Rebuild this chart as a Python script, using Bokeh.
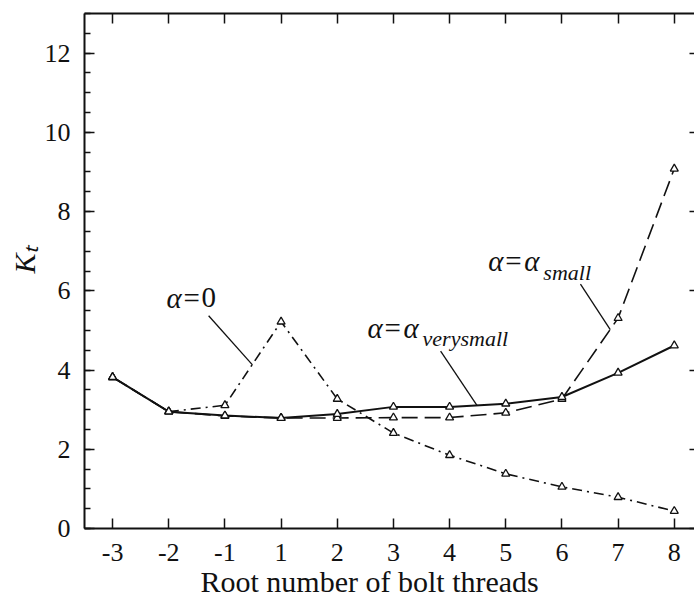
import math
from bokeh.plotting import figure
from bokeh.models import (Range1d, LinearAxis, FixedTicker, SingleIntervalTicker,
                          Label, Title, ColumnDataSource)
from bokeh.embed import file_html
from bokeh.resources import INLINE

# ---------------- data ----------------
categories = ["-3", "-2", "-1", "1", "2", "3", "4", "5", "6", "7", "8"]
kt_verysmall = [3.82, 2.95, 2.85, 2.79, 2.89, 3.07, 3.07, 3.15, 3.32, 3.93, 4.62]
kt_small     = [3.82, 2.95, 2.84, 2.79, 2.79, 2.80, 2.80, 2.92, 3.27, 5.31, 9.08]
kt_zero      = [3.82, 2.95, 3.11, 5.22, 3.27, 2.41, 1.85, 1.38, 1.05, 0.79, 0.44]

x_title = "Root number of  bolt threads"
y_title = "Kₜ"

idx = list(range(len(categories)))
FONT = "Liberation Serif"
INK = "#111111"

p = figure(width=694, height=606,
           x_range=Range1d(-0.5, 10.36), y_range=Range1d(0, 13),
           output_backend="svg", toolbar_location=None,
           x_axis_location=None, y_axis_location=None,
           min_border_left=84, min_border_right=0,
           min_border_top=13, min_border_bottom=78)
p.outline_line_color = None
p.background_fill_color = "white"
p.border_fill_color = "white"
for g in p.grid:
    g.visible = False

# ---------------- axes ----------------
xa = LinearAxis(ticker=FixedTicker(ticks=idx),
                major_label_overrides={i: c for i, c in enumerate(categories)})
xa.major_tick_in = 10
xa.major_tick_out = 0
xa.minor_tick_in = 0
xa.minor_tick_out = 0
xa.axis_line_width = 2
xa.axis_line_color = INK
xa.major_tick_line_width = 1.5
xa.major_tick_line_color = INK
xa.major_label_text_font = FONT
xa.major_label_text_font_size = "26px"
xa.major_label_text_color = INK
xa.major_label_standoff = 15
p.add_layout(xa, "below")

ta = LinearAxis(ticker=FixedTicker(ticks=idx))
ta.major_label_text_font_size = "0px"
ta.major_label_standoff = 0
ta.major_tick_in = 10
ta.major_tick_out = 0
ta.minor_tick_in = 0
ta.minor_tick_out = 0
ta.axis_line_width = 2
ta.axis_line_color = INK
ta.major_tick_line_width = 1.5
ta.major_tick_line_color = INK
p.add_layout(ta, "above")

ya = LinearAxis(ticker=SingleIntervalTicker(interval=2, num_minor_ticks=4))
ya.major_tick_in = 10
ya.major_tick_out = 0
ya.minor_tick_in = 6
ya.minor_tick_out = 0
ya.axis_line_width = 2
ya.axis_line_color = INK
ya.major_tick_line_width = 1.5
ya.minor_tick_line_width = 1.5
ya.major_tick_line_color = INK
ya.minor_tick_line_color = INK
ya.major_label_text_font = FONT
ya.major_label_text_font_size = "26px"
ya.major_label_text_color = INK
ya.major_label_standoff = 14
p.add_layout(ya, "left")

ra = LinearAxis(ticker=SingleIntervalTicker(interval=2, num_minor_ticks=4))
ra.major_label_text_font_size = "0px"
ra.major_label_standoff = 0
ra.axis_line_color = None
ra.major_tick_in = 5
ra.major_tick_out = 0
ra.minor_tick_in = 0
ra.minor_tick_out = 0
ra.major_tick_line_width = 1.5
ra.major_tick_line_color = INK
p.add_layout(ra, "right")

# axis titles as Title panels (placed outside the axes)
xt = Title(text=x_title, align="left", offset=116, standoff=2,
           text_font=FONT, text_font_size="30px", text_font_style="normal",
           text_color=INK, vertical_align="top")
p.add_layout(xt, "below")

yt = Title(text=y_title, align="left", offset=255, standoff=2,
           text_font=FONT, text_font_size="30px", text_font_style="italic",
           text_color=INK, vertical_align="bottom")
p.add_layout(yt, "left")

# ---------------- series ----------------
src = ColumnDataSource(dict(x=idx, vs=kt_verysmall, sm=kt_small, z=kt_zero))

p.line("x", "z", source=src, line_color=INK, line_width=1.6, line_dash="10 5 2 5")
p.line("x", "sm", source=src, line_color=INK, line_width=1.6, line_dash="16 7")
p.line("x", "vs", source=src, line_color=INK, line_width=2.0)
for col in ("z", "sm", "vs"):
    p.scatter("x", col, source=src, marker="triangle", size=8,
              fill_color="white", line_color=INK, line_width=1.3)

# ---------------- annotations ----------------
def alpha_label(x, y, sub=None, tail=None, size=29, sub_size=22, lift=8):
    """alpha = ... label anchored at data (x, y) baseline-left"""
    parts = []
    parts.append(Label(x=x, y=y, y_offset=lift, text="α", text_font=FONT,
                       text_font_size=f"{size}px", text_font_style="italic",
                       text_color=INK, text_baseline="alphabetic", text_align="left"))
    parts.append(Label(x=x, y=y, x_offset=17, y_offset=lift, text="=", text_font=FONT,
                       text_font_size=f"{size}px", text_color=INK,
                       text_baseline="alphabetic", text_align="left"))
    if tail is not None:
        parts.append(Label(x=x, y=y, x_offset=35, y_offset=lift, text=tail, text_font=FONT,
                           text_font_size=f"{size}px", text_color=INK,
                           text_baseline="alphabetic", text_align="left"))
    if sub is not None:
        parts.append(Label(x=x, y=y, x_offset=36, y_offset=lift, text="α", text_font=FONT,
                           text_font_size=f"{size}px", text_font_style="italic",
                           text_color=INK, text_baseline="alphabetic", text_align="left"))
        parts.append(Label(x=x, y=y, x_offset=55, y_offset=lift - 11, text=sub,
                           text_font=FONT, text_font_size=f"{sub_size}px",
                           text_font_style="italic", text_color=INK,
                           text_baseline="alphabetic", text_align="left"))
    for lb in parts:
        p.add_layout(lb)

alpha_label(0.96, 5.62, tail="0")
alpha_label(4.54, 4.86, sub="verysmall")
alpha_label(6.69, 6.55, sub="small")

# leader lines from labels to curves
p.segment(x0=[1.71, 5.84, 8.33], y0=[5.37, 4.48, 6.17],
          x1=[2.49, 6.49, 8.86], y1=[4.13, 3.10, 5.02],
          line_color=INK, line_width=1.3)

open("out.html", "w").write(file_html(p, INLINE))
